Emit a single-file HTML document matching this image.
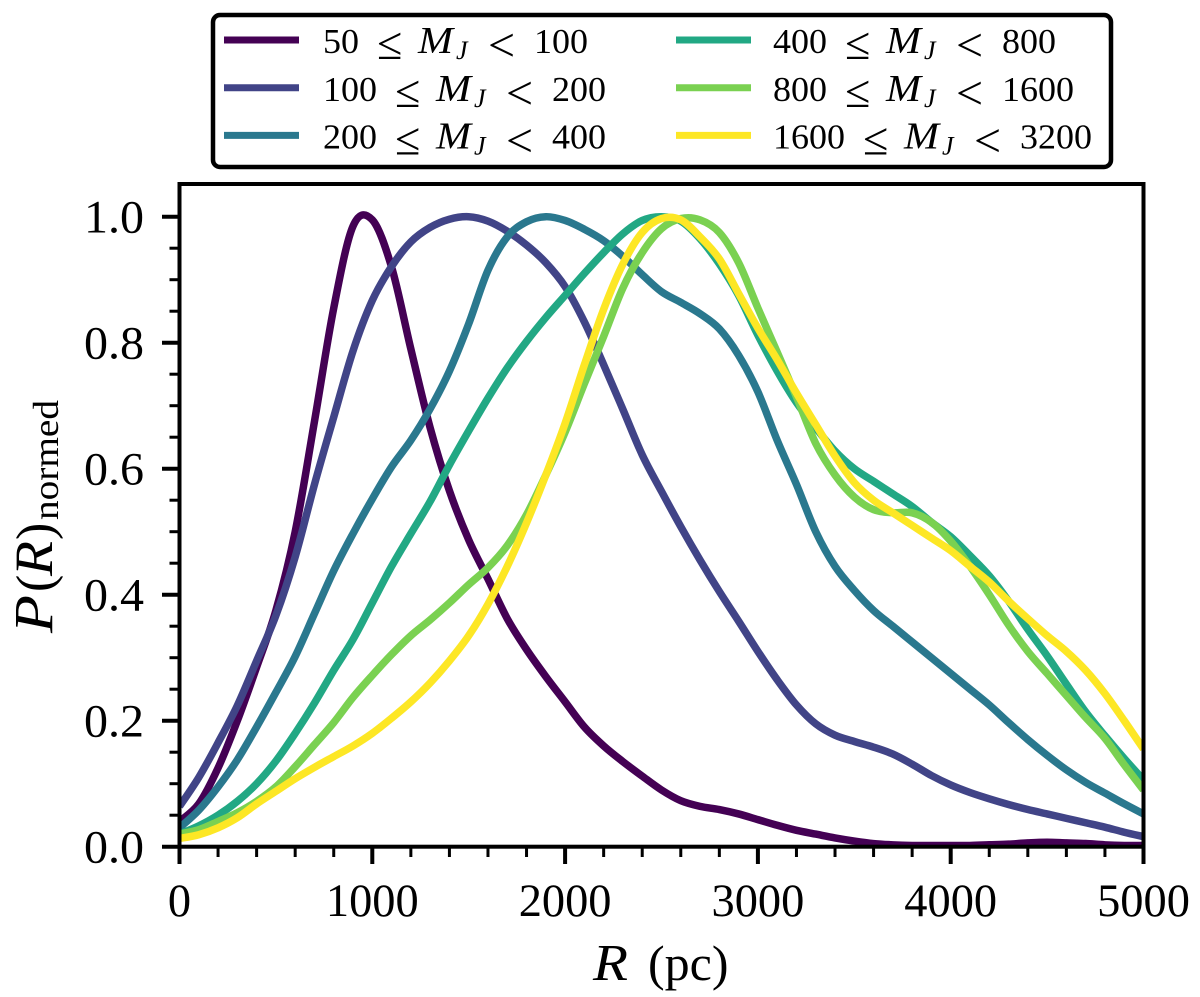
<!DOCTYPE html>
<html lang="en">
<head>
<meta charset="utf-8">
<title>Normalised radial distribution by mass bin</title>
<style>
html,body{margin:0;padding:0;background:#fff;width:1200px;height:997px;overflow:hidden}
svg{display:block}
text{font-family:"Liberation Serif",serif;fill:#000}
</style>
</head>
<body>
<svg id="chart" xmlns="http://www.w3.org/2000/svg" width="1200" height="997" viewBox="0 0 1200 997">
  <rect width="1200" height="997" fill="#fff"/>
  <defs><clipPath id="plot-clip"><rect x="179.5" y="184" width="964" height="662.7"/></clipPath></defs>
  <g id="series-layer" clip-path="url(#plot-clip)"></g>
  <g id="tick-layer"></g>
  <rect x="179.5" y="184" width="964" height="662.7" fill="none" stroke="#000" stroke-width="4"/>
  <g>
    <text x="593" y="980" font-size="52" font-style="italic" textLength="35" lengthAdjust="spacingAndGlyphs">R</text>
    <text x="648" y="980" font-size="50">(pc)</text>
  </g>
  <g transform="translate(52,633) rotate(-90)">
    <text x="0" y="0" font-size="55" font-style="italic" textLength="38" lengthAdjust="spacingAndGlyphs">P</text>
    <text x="41" y="0" font-size="52">(</text>
    <text x="57" y="0" font-size="54" font-style="italic" textLength="35" lengthAdjust="spacingAndGlyphs">R</text>
    <text x="93" y="0" font-size="52">)</text>
    <text x="113" y="6" font-size="36" textLength="120" lengthAdjust="spacingAndGlyphs">normed</text>
  </g>
  <rect x="213" y="15" width="898" height="152" rx="7" ry="7" fill="#fff" stroke="#000" stroke-width="4.5"/>
  <g id="legend-layer"></g>
</svg>
<script>
const radii = [0,100,200,300,400,500,600,700,800,900,1000,1100,1200,1300,1400,1500,1600,1700,1800,1900,2000,2100,2200,2300,2400,2500,2600,2700,2800,2900,3000,3100,3200,3300,3400,3500,3600,3700,3800,3900,4000,4100,4200,4300,4400,4500,4600,4700,4800,4900,5000];
const bin50to100 = [.04,.068,.125,.20,.285,.375,.50,.675,.855,.985,.995,.92,.79,.665,.565,.487,.425,.362,.313,.27,.23,.19,.16,.135,.112,.09,.073,.064,.059,.052,.043,.034,.026,.02,.014,.009,.005,.003,.002,.002,.002,.002,.003,.004,.006,.007,.006,.005,.003,.002,.002];
const bin100to200 = [.064,.11,.165,.224,.295,.367,.46,.575,.682,.787,.867,.921,.96,.983,.996,1.0,.993,.977,.955,.927,.889,.833,.765,.694,.622,.564,.508,.455,.405,.358,.31,.265,.225,.195,.177,.167,.158,.147,.131,.113,.098,.086,.076,.067,.059,.052,.045,.038,.031,.023,.016];
const bin200to400 = [.03,.058,.095,.138,.19,.245,.302,.37,.438,.497,.552,.603,.645,.695,.755,.83,.915,.968,.992,1.0,.994,.98,.962,.937,.908,.881,.864,.846,.822,.78,.722,.645,.575,.50,.445,.407,.375,.35,.325,.30,.275,.25,.225,.197,.17,.145,.122,.102,.085,.068,.052];
const bin400to800 = [.02,.033,.05,.072,.10,.136,.18,.228,.28,.329,.387,.445,.497,.548,.606,.66,.712,.76,.802,.84,.875,.91,.943,.973,.994,1.0,.993,.965,.925,.875,.812,.755,.705,.665,.628,.60,.58,.56,.54,.515,.492,.462,.43,.39,.345,.303,.258,.214,.176,.14,.106];
const bin800to1600 = [.02,.027,.04,.054,.072,.095,.127,.162,.197,.237,.272,.305,.335,.36,.387,.416,.443,.478,.527,.59,.658,.735,.81,.887,.943,.981,.997,.995,.975,.927,.855,.785,.714,.64,.59,.555,.535,.53,.53,.515,.485,.445,.40,.352,.31,.275,.24,.205,.172,.13,.09];
const bin1600to3200 = [.013,.019,.03,.046,.068,.088,.108,.126,.143,.16,.18,.204,.23,.26,.295,.335,.385,.445,.514,.59,.672,.765,.853,.925,.975,.997,.995,.968,.933,.878,.823,.773,.72,.67,.62,.578,.55,.53,.51,.49,.47,.445,.42,.39,.362,.335,.31,.28,.243,.20,.155];
const seriesValues = [bin50to100,bin100to200,bin200to400,bin400to800,bin800to1600,bin1600to3200];
const seriesColors = ["#440154","#414487","#2a788e","#22a884","#7ad151","#fde725"];
const binLower = ["50","100","200","400","800","1600"];
const binUpper = ["100","200","400","800","1600","3200"];
const seriesKeys = ["50-100","100-200","200-400","400-800","800-1600","1600-3200"];
const xTickValues = [0,1000,2000,3000,4000,5000];
const xTickLabels = ["0","1000","2000","3000","4000","5000"];
const xMinorValues = [200,400,600,800,1200,1400,1600,1800,2200,2400,2600,2800,3200,3400,3600,3800,4200,4400,4600,4800];
const yTickValues = [0,.2,.4,.6,.8,1];
const yTickLabels = ["0.0","0.2","0.4","0.6","0.8","1.0"];
const yMinorValues = [.05,.1,.15,.25,.3,.35,.45,.5,.55,.65,.7,.75,.85,.9,.95];

const NS = "http://www.w3.org/2000/svg";
function xScale(r){ return 179.5 + r * 964 / 5000; }
function yScale(v){ return 846.7 - v * 630; }
function make(tag, attrs, parent){
  const el = document.createElementNS(NS, tag);
  for (const k in attrs) el.setAttribute(k, attrs[k]);
  parent.appendChild(el);
  return el;
}
function smoothPath(xs, ys){
  const px = xs.map(xScale), py = ys.map(yScale);
  let d = "M" + px[0].toFixed(2) + " " + py[0].toFixed(2);
  for (let i = 0; i < px.length - 1; i++){
    const a = Math.max(i - 1, 0), b = Math.min(i + 2, px.length - 1);
    const c1x = px[i] + (px[i+1] - px[a]) / 6, c1y = py[i] + (py[i+1] - py[a]) / 6;
    const c2x = px[i+1] - (px[b] - px[i]) / 6, c2y = py[i+1] - (py[b] - py[i]) / 6;
    d += "C" + c1x.toFixed(2) + " " + c1y.toFixed(2) + " " + c2x.toFixed(2) + " " + c2y.toFixed(2) + " " + px[i+1].toFixed(2) + " " + py[i+1].toFixed(2);
  }
  return d;
}

const seriesLayer = document.getElementById("series-layer");
seriesValues.forEach(function(values, i){
  const path = make("path", {d: smoothPath(radii, values), fill: "none", stroke: seriesColors[i], "stroke-width": 7.5, "stroke-linejoin": "round"}, seriesLayer);
  
  
});

const tickLayer = document.getElementById("tick-layer");
xTickValues.forEach(function(v, i){
  const x = xScale(v);
  const t = make("line", {x1: x, x2: x, y1: 846.7, y2: 864, stroke: "#000", "stroke-width": 4}, tickLayer);
  
  
  const label = make("text", {x: x, y: 916, "text-anchor": "middle", "font-size": 47, textLength: xTickLabels[i].length * 23.2, lengthAdjust: "spacingAndGlyphs"}, tickLayer);
  label.textContent = xTickLabels[i];
  
  
});
xMinorValues.forEach(function(v){
  const x = xScale(v);
  const t = make("line", {x1: x, x2: x, y1: 846.7, y2: 857, stroke: "#000", "stroke-width": 3}, tickLayer);
  
  
});
yTickValues.forEach(function(v, i){
  const y = yScale(v);
  const t = make("line", {x1: 162, x2: 179.5, y1: y, y2: y, stroke: "#000", "stroke-width": 4}, tickLayer);
  
  
  const label = make("text", {x: 84, y: y + 16, "font-size": 47, textLength: 60, lengthAdjust: "spacingAndGlyphs"}, tickLayer);
  label.textContent = yTickLabels[i];
  
  
});
yMinorValues.forEach(function(v){
  const y = yScale(v);
  const t = make("line", {x1: 169.5, x2: 179.5, y1: y, y2: y, stroke: "#000", "stroke-width": 3}, tickLayer);
  
  
});

const legendLayer = document.getElementById("legend-layer");
binLower.forEach(function(low, i){
  const col = i < 3 ? 0 : 1;
  const row = i % 3;
  const y = 40 + row * 47.7;
  const lineX = col === 0 ? 224 : 676;
  const textX = col === 0 ? 323 : 773;
  const swatch = make("line", {x1: lineX, x2: lineX + 75, y1: y, y2: y, stroke: seriesColors[i], "stroke-width": 7}, legendLayer);
  
  
  const end = textX + low.length * 18;
  const base = y + 13.2;
  const entry = make("g", {}, legendLayer);
  
  
  const lowText = make("text", {x: textX, y: base, "font-size": 35, textLength: low.length * 18, lengthAdjust: "spacingAndGlyphs"}, entry);
  lowText.textContent = low;
  const leText = make("text", {x: end + 18, y: base + 6, "font-size": 46}, entry);
  leText.textContent = "\u2264";
  const mText = make("text", {x: end + 59, y: base, "font-size": 38, "font-style": "italic", textLength: 35, lengthAdjust: "spacingAndGlyphs"}, entry);
  mText.textContent = "M";
  const jText = make("text", {x: end + 97, y: base + 6, "font-size": 26, "font-style": "italic"}, entry);
  jText.textContent = "J";
  const ltText = make("text", {x: end + 129, y: base + 8, "font-size": 48}, entry);
  ltText.textContent = "<";
  const upText = make("text", {x: end + 175, y: base, "font-size": 35, textLength: binUpper[i].length * 18, lengthAdjust: "spacingAndGlyphs"}, entry);
  upText.textContent = binUpper[i];
});
</script>
</body>
</html>
